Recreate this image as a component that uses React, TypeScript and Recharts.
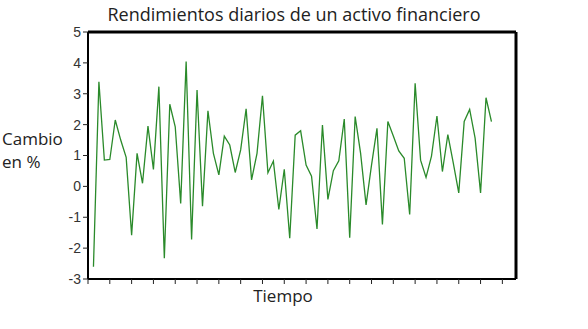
import { LineChart, Line, XAxis, YAxis, ReferenceLine } from 'recharts'

// daily returns, in % (74 days)
const days: number[] = Array.from({ length: 74 }, (_, i) => i + 1)
const returns: number[] = [
  -2.6, 3.39, 0.85, 0.87, 2.15, 1.5, 0.94, -1.58, 1.07, 0.1,
  1.95, 0.55, 3.23, -2.33, 2.66, 1.93, -0.55, 4.04, -1.72, 3.12,
  -0.64, 2.45, 1.07, 0.37, 1.63, 1.34, 0.45, 1.18, 2.51, 0.21,
  1.07, 2.93, 0.44, 0.82, -0.75, 0.55, -1.68, 1.66, 1.8, 0.69,
  0.33, -1.38, 1.99, -0.42, 0.51, 0.83, 2.18, -1.66, 2.26, 1.07,
  -0.6, 0.69, 1.88, -1.23, 2.1, 1.63, 1.15, 0.91, -0.91, 3.34,
  0.85, 0.29, 0.98, 2.28, 0.48, 1.68, 0.75, -0.21, 2.1, 2.49,
  1.56, -0.21, 2.87, 2.1,
]
const xTicks: number[] = [0, 4, 8, 12, 16, 20, 24, 28, 32, 36, 40, 44, 48, 52, 56, 60, 64, 68, 72, 76]
const yTicks: number[] = [-3, -2, -1, 0, 1, 2, 3, 4, 5]

const data = days.map((d, i) => ({ day: d, value: returns[i] }))

const FONT = '"Open Sans", sans-serif'

export default function App() {
  return (
    <div style={{ position: 'absolute', left: 0, top: 0, width: 588, height: 329, background: '#fff' }}>
      <div style={{
        position: 'absolute', top: 2, left: 0, width: 588, textAlign: 'center',
        fontFamily: FONT, fontSize: 18, color: '#222',
      }}>
        Rendimientos diarios de un activo financiero
      </div>
      <div style={{
        position: 'absolute', top: 127, left: 2, fontFamily: FONT, fontSize: 17,
        lineHeight: '23px', color: '#222',
      }}>
        Cambio<br />en %
      </div>
      <div style={{
        position: 'absolute', top: 284, left: 0, width: 566, textAlign: 'center',
        fontFamily: FONT, fontSize: 17, color: '#222',
      }}>
        Tiempo
      </div>
      <LineChart width={588} height={329} data={data}
        margin={{ top: 32, right: 72, bottom: 0, left: 0 }}>
        <XAxis dataKey="day" type="number" domain={[0, 78.5]} ticks={xTicks}
          tickFormatter={() => ''} height={50} tickSize={5}
          axisLine={{ stroke: '#000', strokeWidth: 2 }} tickLine={{ stroke: '#222' }} />
        <YAxis type="number" domain={[-3, 5]} ticks={yTicks} width={88} tickSize={5}
          tick={{ fontSize: 14, fill: '#333', fontFamily: 'Liberation Sans, Arial, sans-serif' }}
          axisLine={{ stroke: '#000', strokeWidth: 2 }} tickLine={{ stroke: '#222' }} />
        <ReferenceLine y={5} stroke="#000" strokeWidth={3} />
        <ReferenceLine x={78.5} stroke="#000" strokeWidth={3} />
        <Line type="linear" dataKey="value" stroke="#2a8a2a" strokeWidth={1.3}
          dot={false} isAnimationActive={false} />
      </LineChart>
    </div>
  )
}
